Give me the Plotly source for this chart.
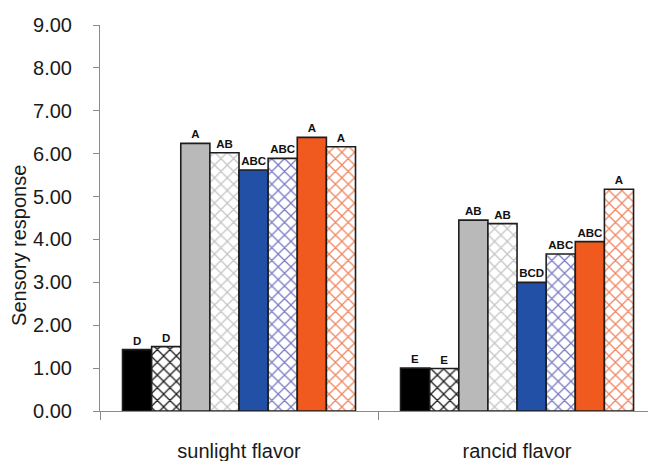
import plotly.graph_objects as go

# Sensory panel scores for two off-flavours across eight treatments
categories = ["sunlight flavor", "rancid flavor"]
treatments = ["T1", "T2", "T3", "T4", "T5", "T6", "T7", "T8"]
scores = [
    [1.43, 1.00],
    [1.50, 0.99],
    [6.24, 4.45],
    [6.02, 4.37],
    [5.62, 3.00],
    [5.89, 3.66],
    [6.38, 3.95],
    [6.16, 5.17],
]
letters = [
    ["D", "E"],
    ["D", "E"],
    ["A", "AB"],
    ["AB", "AB"],
    ["ABC", "BCD"],
    ["ABC", "ABC"],
    ["A", "ABC"],
    ["A", "A"],
]
y_ticks = [0, 1, 2, 3, 4, 5, 6, 7, 8, 9]

# fill colour and hatch colour (None = solid fill)
styles = [
    ("#000000", None),
    (None, "#1a1a1a"),
    ("#b9b9b9", None),
    (None, "#c4c4c4"),
    ("#2150a6", None),
    (None, "#7b7bc4"),
    ("#f15a1f", None),
    (None, "#f08560"),
]

FONT = "Liberation Sans, Arial, sans-serif"
TXT = "#1a1a1a"
fig = go.Figure()
for name, vals, labs, (solid, hatch) in zip(treatments, scores, letters, styles):
    if hatch is None:
        marker = dict(color=solid, line=dict(color="#1e1e1e", width=1.6))
    else:
        marker = dict(
            color="white",
            line=dict(color="#1e1e1e", width=1.6),
            pattern=dict(shape="x", fgcolor=hatch, bgcolor="white",
                         size=9, solidity=0.26, fillmode="replace"),
        )
    fig.add_trace(go.Bar(
        name=name, x=categories, y=vals, marker=marker,
        text=labs, textposition="outside", constraintext="none",
        textfont=dict(family=FONT, size=11.5, color="#111111", weight="bold"),
        cliponaxis=False, showlegend=False,
    ))

# the category axis runs a little past the right edge of the page
fig.update_layout(
    width=648, height=461,
    margin=dict(l=100, r=0, t=25, b=50),
    paper_bgcolor="white", plot_bgcolor="white",
    barmode="group", bargap=0.162, bargroupgap=0,
    font=dict(family=FONT, color=TXT),
    annotations=[dict(
        text="Sensory response", textangle=-90, showarrow=False,
        xref="paper", yref="paper", x=-0.148, y=0.43,
        xanchor="center", yanchor="middle",
        font=dict(size=20, family=FONT, color=TXT),
    )],
)
fig.update_xaxes(
    type="category", range=[-0.5, 1.471],
    showline=True, linecolor="#8a8a8a", linewidth=1,
    ticks="outside", tickson="boundaries", ticklen=8, tickcolor="#8a8a8a",
    tickfont=dict(size=20, family=FONT, color=TXT),
    ticklabelstandoff=22, showgrid=False, zeroline=False, automargin=False,
)
fig.update_yaxes(
    range=[0, 9], tickvals=y_ticks, tickformat=".2f",
    showline=True, linecolor="#8a8a8a", linewidth=1,
    ticks="outside", ticklen=6, tickcolor="#8a8a8a",
    tickfont=dict(size=20, family=FONT, color=TXT),
    ticklabelstandoff=17,
    showgrid=False, zeroline=False, automargin=False,
)

fig.write_html("out.html")
